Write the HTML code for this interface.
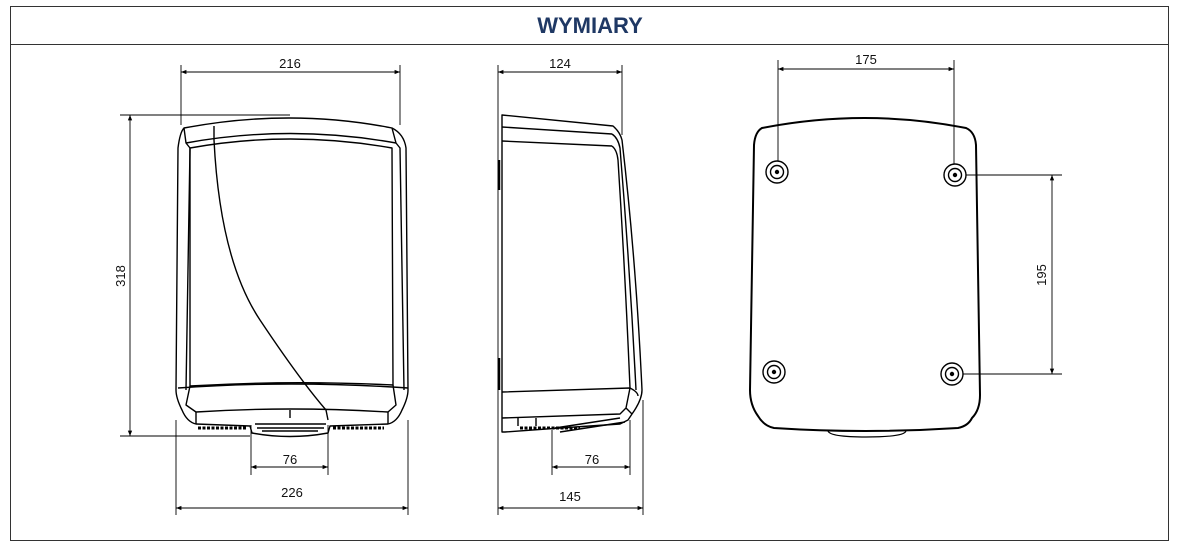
<!DOCTYPE html>
<html><head><meta charset="utf-8"><style>
html,body{margin:0;padding:0;background:#fff;width:1177px;height:548px;overflow:hidden}
svg{display:block}
text{font-family:"Liberation Sans","DejaVu Sans",sans-serif;font-size:13px;fill:#111}
</style></head><body>
<svg width="1177" height="548" viewBox="0 0 1177 548">
<defs>
<marker id="a" viewBox="0 0 10 10" refX="10" refY="5" markerWidth="8" markerHeight="6" orient="auto-start-reverse"><path d="M0,1 L10,5 L0,9z" fill="#000"/></marker>
</defs>
<rect x="10.5" y="6.5" width="1158" height="534" fill="none" stroke="#333" stroke-width="1"/>
<line x1="10" y1="44.5" x2="1169" y2="44.5" stroke="#333"/>
<text x="590" y="33" text-anchor="middle" style="font-size:22px;font-weight:bold;fill:#1f3864">WYMIARY</text>

<g stroke="#000" stroke-width="0.9" fill="none">
<!-- front dims -->
<line x1="181" y1="65" x2="181" y2="125"/><line x1="400" y1="65" x2="400" y2="125"/>
<line x1="181" y1="72" x2="400" y2="72" marker-start="url(#a)" marker-end="url(#a)"/>
<line x1="120" y1="115" x2="290" y2="115"/><line x1="120" y1="436" x2="250" y2="436"/>
<line x1="130" y1="115" x2="130" y2="436" marker-start="url(#a)" marker-end="url(#a)"/>
<line x1="251" y1="425" x2="251" y2="475"/><line x1="328" y1="425" x2="328" y2="475"/>
<line x1="251" y1="467" x2="328" y2="467" marker-start="url(#a)" marker-end="url(#a)"/>
<line x1="176" y1="420" x2="176" y2="515"/><line x1="408" y1="420" x2="408" y2="515"/>
<line x1="176" y1="508" x2="408" y2="508" marker-start="url(#a)" marker-end="url(#a)"/>
<!-- side dims -->
<line x1="498" y1="65" x2="498" y2="515"/><line x1="622" y1="65" x2="622" y2="135"/>
<line x1="498" y1="72" x2="622" y2="72" marker-start="url(#a)" marker-end="url(#a)"/>
<line x1="552" y1="430" x2="552" y2="475"/><line x1="630" y1="420" x2="630" y2="475"/>
<line x1="552" y1="467" x2="630" y2="467" marker-start="url(#a)" marker-end="url(#a)"/>
<line x1="643" y1="400" x2="643" y2="515"/>
<line x1="498" y1="508" x2="643" y2="508" marker-start="url(#a)" marker-end="url(#a)"/>
<!-- back dims -->
<line x1="778" y1="60" x2="778" y2="172"/><line x1="954" y1="60" x2="954" y2="174"/>
<line x1="778" y1="69" x2="954" y2="69" marker-start="url(#a)" marker-end="url(#a)"/>
<line x1="954" y1="175" x2="1062" y2="175"/><line x1="951" y1="374" x2="1062" y2="374"/>
<line x1="1052" y1="175" x2="1052" y2="374" marker-start="url(#a)" marker-end="url(#a)"/>
</g>
<text x="290" y="68" text-anchor="middle">216</text>
<text x="560" y="68" text-anchor="middle">124</text>
<text x="866" y="64" text-anchor="middle">175</text>
<text x="290" y="464" text-anchor="middle">76</text>
<text x="592" y="464" text-anchor="middle">76</text>
<text x="292" y="497" text-anchor="middle">226</text>
<text x="570" y="501" text-anchor="middle">145</text>
<text transform="translate(125,276) rotate(-90)" text-anchor="middle">318</text>
<text transform="translate(1046,275) rotate(-90)" text-anchor="middle">195</text>

<!-- front view -->
<g stroke="#000" stroke-width="1.4" fill="none" stroke-linejoin="round">
<path d="M184,128 Q290,108 392,128 Q404,134 406,148 L408,390 Q408,398 402,410 Q397,422 388,424 L330,426 L328,433 Q290,440 252,433 L250,426 L196,424 Q187,422 182,410 Q176,398 176,390 L178,148 Q180,132 184,128z"/>
<path d="M186,143 Q290,124 396,143"/>
<path d="M184,128 L186,143 L190,148 L186,390 M396,143 L392,128 M396,143 L400,148 L404,390"/>
<path d="M190,148 Q290,130 392,148 L393,385 Q290,380 190,386 L190,148"/>
<path d="M178,388 Q290,380 408,388"/>
<path d="M190,386 L186,405 L196,412 Q290,406 388,412 L396,405 L393,385"/>
<path d="M196,412 L196,424 M388,412 L388,424"/>
<path d="M214,126 L214,140 Q220,260 260,320 Q300,380 326,410 L328,420"/>
<path d="M290,410 L290,418"/>
<path d="M255,424 L326,424 M257,428 L324,428 M262,431 L318,431"/>
</g>
<g stroke="#000" stroke-width="3" stroke-dasharray="3,1.5">
<line x1="198" y1="428" x2="247" y2="428"/><line x1="333" y1="428" x2="384" y2="428"/>
</g>

<!-- side view -->
<g stroke="#000" stroke-width="1.4" fill="none" stroke-linejoin="round">
<path d="M502,115 L613,126 Q620,132 622,140 Q636,260 642,390 Q642,400 632,414 L628,420 L620,424 L560,428 L505,432 L502,432z"/>
<path d="M502,127 L612,134 M502,141 L612,146"/>
<path d="M612,134 Q618,138 620,148 Q630,270 636,390 M612,146 Q617,150 618,160 Q625,270 630,388"/>
<path d="M502,392 L630,388 Q638,392 638,396 M630,388 L626,408 L620,414 L502,418 M626,408 L632,414"/>
<path d="M518,418 L518,426 M536,418 L536,426"/>
<path d="M555,428 L620,418 M560,432 L625,422"/>
<line x1="499" y1="160" x2="499" y2="190" stroke-width="2.5"/>
<line x1="499" y1="358" x2="499" y2="390" stroke-width="2.5"/>
</g>
<line x1="520" y1="428" x2="580" y2="428" stroke="#000" stroke-width="3" stroke-dasharray="3,1.5"/>

<!-- back view -->
<g stroke="#000" stroke-width="2" fill="none">
<path d="M762,128 Q865,108 966,128 Q975,132 976,145 L980,395 Q980,410 972,418 Q968,426 958,428 Q865,434 774,428 Q764,426 758,416 Q750,405 750,390 L754,145 Q755,132 762,128z"/>
<path d="M828,431 Q830,437 866,437 Q904,437 906,431" stroke-width="1.2"/>
</g>
<g stroke="#000" stroke-width="1.4" fill="#fff">
<circle cx="777" cy="172" r="11"/><circle cx="777" cy="172" r="6.5"/>
<circle cx="955" cy="175" r="11"/><circle cx="955" cy="175" r="6.5"/>
<circle cx="774" cy="372" r="11"/><circle cx="774" cy="372" r="6.5"/>
<circle cx="952" cy="374" r="11"/><circle cx="952" cy="374" r="6.5"/>
</g>
<g fill="#000"><circle cx="777" cy="172" r="2.2"/><circle cx="955" cy="175" r="2.2"/><circle cx="774" cy="372" r="2.2"/><circle cx="952" cy="374" r="2.2"/></g>
</svg>
</body></html>
